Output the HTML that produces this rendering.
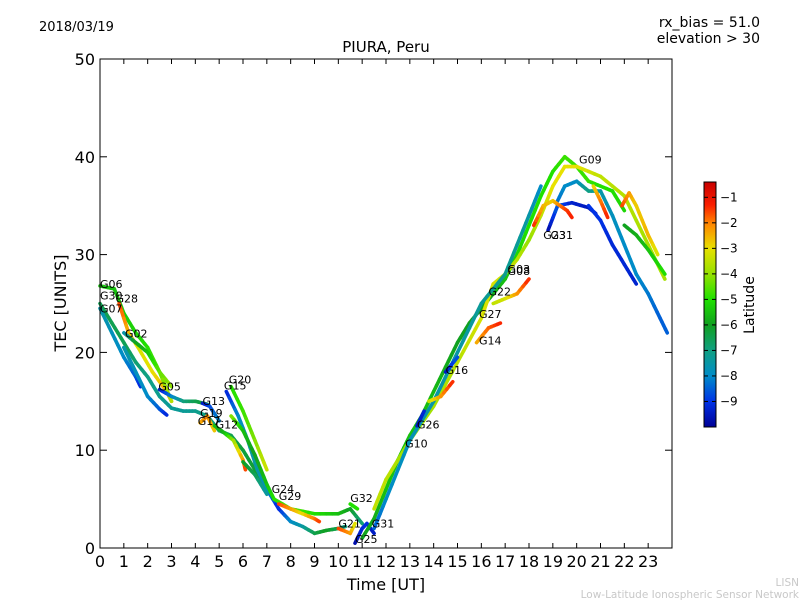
<!DOCTYPE html>
<html><head><meta charset="utf-8"><style>
body{margin:0;background:#fff;}
svg text{font-family:"DejaVu Sans","Liberation Sans",sans-serif;}
</style></head><body>
<svg id="chart" width="800" height="600" xmlns="http://www.w3.org/2000/svg">
<rect width="800" height="600" fill="#fff"/>
<text x="39" y="31" font-size="13">2018/03/19</text>
<text x="760" y="27" font-size="14" text-anchor="end">rx_bias = 51.0</text>
<text x="760" y="43" font-size="14" text-anchor="end">elevation &gt; 30</text>
<text x="386" y="52" font-size="15" text-anchor="middle">PIURA, Peru</text>
<g id="series"></g>
<g id="axes"></g>
<text x="386" y="590" font-size="16" text-anchor="middle">Time [UT]</text>
<text transform="translate(66,303) rotate(-90)" font-size="16" text-anchor="middle">TEC [UNITS]</text>
<g id="cbar"></g>
<text transform="translate(754,305) rotate(-90)" font-size="14" text-anchor="middle">Latitude</text>
<text x="799" y="586" font-size="10.5" fill="#c8c8c8" text-anchor="end">LISN</text>
<text x="799" y="598" font-size="10.5" fill="#c8c8c8" text-anchor="end">Low-Latitude Ionospheric Sensor Network</text>
</svg>
<script>
const xTicks=[0,1,2,3,4,5,6,7,8,9,10,11,12,13,14,15,16,17,18,19,20,21,22,23];
const yTicks=[0,10,20,30,40,50];
const cbarTicks=[-1,-2,-3,-4,-5,-6,-7,-8,-9];
// each track: times, tec values, latitudes
const trackNames=["G07","G30","G06","G28","G02","cyanA","G05","G13","G19","G12","G15","G20","greenB","G24","G29","G21","G25","G32","riseGreen","riseYellow","riseCyan","G23","G09b","G31b","lateOrange","lateGreen","r1","r2","r3","r4","r5","b1","b2"];
const trackTimes=[
[0,0.5,1,1.5,2,2.5,3,3.5,4,4.5,5,5.5,6,6.5,7],
[0,0.5,1,1.5,1.7],
[0,0.6,1,1.5,2,2.5,3],
[0.8,1.2,1.6,2.2,2.8,3.0],
[1,1.5,2,2.5,3],
[1,1.5,2,2.5,2.8],
[2.5,3,3.5,4,4.5],
[4.3,4.6,5],
[4.2,4.5,4.8],
[4.8,5.2,5.6,6,6.1],
[5.3,5.8,6.2,6.6,7,7.5,8,8.5,9,9.5,10,10.3],
[5.5,6,6.5,7],
[5.5,6,6.5,7,7.3,8,9,10,10.5,11],
[6,6.5,7],
[7.5,8,8.5,9,9.2],
[10,10.5,10.7],
[10.7,11,11.2,11.5],
[10.5,10.8],
[11,11.5,12,12.5,13,13.5,14,14.5,15,15.5,16,16.5,17,17.5,18,18.5,19,19.5,20,20.5,21,21.5,22],
[11.5,12,13,14,15,16,16.5,17,17.5,18,18.5,19,19.5,20,21,22,23,23.7],
[11.5,12,13,14,15,16,17,17.5,18,18.5],
[18.8,19.2,19.8,20.5,20.8],
[19.2,19.5,20,20.5,21,21.5,22,22.5,23,23.5,23.8],
[20.5,21,21.5,22,22.5],
[21.9,22.2,22.5,23,23.4],
[22,22.5,23,23.7],
[13.8,14.3,14.8],
[15.8,16.3,16.8],
[16.5,17,17.5,18],
[18.2,18.6,19,19.3,19.6,19.8],
[20.7,21,21.3],
[13.3,13.6],
[14.5,15]];
const trackTec=[
[25,23,21,19,17.5,15.5,14.3,14,14,13.5,12,11.5,10,8,6],
[24.5,22,19.5,17.5,16.5],
[26.8,26.5,24,22,20.5,18,16.5],
[25,22,20.5,18,16,15],
[22,21,20,18,15],
[20.5,18,15.5,14.2,13.6],
[16.2,15.5,15,15,14.7],
[14.8,14.5,13],
[12.8,13.5,12],
[12.5,11.8,11,9,8],
[16,13.5,11,8,6,4,2.7,2.2,1.5,1.8,2,2.2],
[16.5,14,11,8],
[13.5,12,9.5,6.5,5,4,3.5,3.5,4,2.5],
[8.8,7.5,5.5],
[4.5,4,3.5,3,2.7],
[2,1.5,2.5],
[0.5,2,2.5,1.5],
[4.5,4],
[1,3,6,9,11.5,13.5,16,18.5,21,23,24.5,26,27.5,30,33,36,38.5,40,39,37.5,37,36.5,34.5],
[4,7,11,14.5,19,23.5,27,28,29.5,31.5,34,37,39,39,38,36,31,27.5],
[2,5,11,15,20,25,28,31,34,37],
[32.5,35,35.3,34.8,34.2],
[35.5,37,37.5,36.5,36.5,34,31,28,26,23.5,22],
[35,33.5,31,29,27],
[35,36.3,35,32,30],
[33,32,30.5,28],
[15,15.5,17],
[21,22.5,23],
[25,25.5,26,27.5],
[33,35,35.5,35,34.5,33.8],
[37,35.5,33.8],
[12.5,14],
[18,19.5]];
const trackLat=[
[-6.5,-6.5,-6.5,-6.8,-7,-7.2,-7.3,-7.3,-7.2,-7,-6.8,-6.5,-6.3,-6.2,-6],
[-7.5,-7.8,-8,-8.5,-9.2],
[-5.5,-5.5,-5.3,-5.2,-5,-4.5,-4],
[-1.5,-2.5,-3.2,-3,-2.5,-2],
[-7.8,-6,-5.5,-4.5,-3.5],
[-7.5,-7.8,-8,-8.5,-9.2],
[-9.5,-8.2,-7,-6.5,-6.2],
[-9.5,-8.8,-8],
[-2.5,-2,-2.8],
[-5.5,-5.8,-4,-2.3,-1.5],
[-9.3,-8,-7.5,-7.5,-7.8,-9.2,-8,-7.5,-6.5,-6,-6.5,-7],
[-5,-4.8,-4.2,-3.3],
[-4,-5.5,-6,-5.5,-5,-4.5,-5,-5.5,-6,-7],
[-6,-6.5,-7.5],
[-1.5,-2.2,-3,-2,-1.5],
[-1.5,-2.2,-3.2],
[-9.8,-9.2,-9,-9.5],
[-5,-5],
[-6,-5.8,-5.5,-5.5,-5.5,-5.5,-5.6,-5.8,-6,-6,-6,-5.8,-5.5,-5.2,-5,-5,-5,-4.8,-4.8,-4.8,-5,-5,-5.2],
[-3.5,-3.5,-4,-3.8,-3.6,-3.2,-3.2,-3.3,-3.5,-4,-3.5,-3,-3,-3,-3.5,-3.6,-3.8,-3.8],
[-8.5,-8,-7.8,-7.5,-7.5,-7.3,-7.2,-7.3,-7.5,-8],
[-9.8,-8.5,-9.3,-9.5,-9.5],
[-8.3,-8,-8,-7,-7.5,-7.8,-8,-8,-8.2,-8.5,-8.5],
[-9,-9,-9.2,-9.2,-9.3],
[-1.5,-2.2,-2.8,-2.5,-3.2],
[-6,-5.8,-5.5,-5],
[-3.5,-2.3,-1.3],
[-2.5,-1.8,-1.3],
[-3.5,-3.3,-2.3,-1.3],
[-1.3,-2.5,-2.8,-2,-1.5,-1.3],
[-3,-2,-1.3],
[-9.5,-9.2],
[-9.6,-8.5]];
const labelNames=["G06","G30","G28","G07","G02","G05","G20","G15","G13","G19","G17","G12","G24","G29","G32","G21","G31","G25","G10","G26","G16","G14","G27","G22","G08","G03","G23","G31","G09"];
const labelT=[0,0,0.65,0,1.05,2.45,5.4,5.2,4.3,4.2,4.1,4.85,7.2,7.5,10.5,10,11.4,10.7,12.8,13.3,14.5,15.9,15.9,16.3,17.1,17.1,18.6,18.9,20.1];
const labelV=[26.6,25.4,25.1,24.1,21.5,16.1,16.8,16.2,14.6,13.4,12.6,12.2,5.6,4.9,4.7,2.1,2.1,0.5,10.3,12.2,17.8,20.8,23.5,25.8,27.9,28.1,31.6,31.6,39.3];

const X0=100,X1=672,Y0=548,Y1=59;
const sx=t=>X0+(t/24)*(X1-X0);
const sy=v=>Y0-(v/50)*(Y0-Y1);
const LMIN=-10,LMAX=-0.4;
const stops=[[-10,[0,0,150]],[-9,[0,50,230]],[-8,[0,140,200]],[-7,[16,160,130]],[-6,[16,160,32]],[-5,[32,225,0]],[-4,[150,225,0]],[-3,[232,225,0]],[-2,[255,130,0]],[-1.3,[250,30,0]],[-0.4,[200,0,0]]];
function col(l){l=Math.max(LMIN,Math.min(LMAX,l));
 for(let i=0;i<stops.length-1;i++){const a=stops[i],b=stops[i+1];
  if(l<=b[0]){const f=(l-a[0])/(b[0]-a[0]);const c=a[1].map((x,k)=>Math.round(x+(b[1][k]-x)*f));return `rgb(${c[0]},${c[1]},${c[2]})`;}}
 return 'rgb(200,0,0)';}
const NS='http://www.w3.org/2000/svg';
function mk(tag,attrs,parent){const e=document.createElementNS(NS,tag);for(const k in attrs)e.setAttribute(k,attrs[k]);parent.appendChild(e);return e;}
const ser=document.getElementById('series');
trackNames.forEach((nm,i)=>{
 const g=mk('g',{},ser);
 
 
 const T=trackTimes[i],V=trackTec[i],L=trackLat[i];
 for(let j=0;j<T.length-1;j++){
  const segs=4;
  for(let s=0;s<segs;s++){
   const f0=s/segs,f1=(s+1)/segs;
   const t0=T[j]+(T[j+1]-T[j])*f0,t1=T[j]+(T[j+1]-T[j])*f1;
   const v0=V[j]+(V[j+1]-V[j])*f0,v1=V[j]+(V[j+1]-V[j])*f1;
   const l=L[j]+(L[j+1]-L[j])*(f0+f1)/2;
   const ln=mk('line',{x1:sx(t0),y1:sy(v0),x2:sx(t1),y2:sy(v1),stroke:col(l),'stroke-width':3.6,'stroke-linecap':'round'},g);
   
   
  }
 }
});
labelNames.forEach((nm,i)=>{
 const t=mk('text',{x:sx(labelT[i]),y:sy(labelV[i]),'font-size':11},ser);
 t.textContent=nm;
 
 
});
const ax=document.getElementById('axes');
const fr=mk('rect',{x:X0,y:Y1,width:X1-X0,height:Y0-Y1,fill:'none',stroke:'#000','stroke-width':1},ax);


xTicks.forEach(t=>{
 const x=sx(t);
 mk('line',{x1:x,y1:Y0,x2:x,y2:Y0-5,stroke:'#000'},ax);
 mk('line',{x1:x,y1:Y1,x2:x,y2:Y1+5,stroke:'#000'},ax);
 const tx=mk('text',{x:x,y:Y0+19,'font-size':16,'text-anchor':'middle'},ax);
 tx.textContent=t;
 
 
});
yTicks.forEach(v=>{
 const y=sy(v);
 mk('line',{x1:X0,y1:y,x2:X0+7,y2:y,stroke:'#000'},ax);
 mk('line',{x1:X1,y1:y,x2:X1-7,y2:y,stroke:'#000'},ax);
 const tx=mk('text',{x:X0-5,y:y+6,'font-size':16,'text-anchor':'end'},ax);
 tx.textContent=v;
 
 
});
const cb=document.getElementById('cbar');
const CX=704,CW=12,CT=182,CB=427;
const cy=l=>CB-(l-LMIN)/(LMAX-LMIN)*(CB-CT);
for(let p=CT;p<CB;p++){const l=LMIN+(CB-p-0.5)/(CB-CT)*(LMAX-LMIN);mk('rect',{x:CX,y:p,width:CW,height:1.2,fill:col(l)},cb);}
const cbf=mk('rect',{x:CX,y:CT,width:CW,height:CB-CT,fill:'none',stroke:'#000','stroke-width':1},cb);


cbarTicks.forEach(l=>{
 const y=cy(l);
 mk('line',{x1:CX,y1:y,x2:CX+4,y2:y,stroke:'#000'},cb);
 mk('line',{x1:CX+CW,y1:y,x2:CX+CW-4,y2:y,stroke:'#000'},cb);
 const tx=mk('text',{x:CX+CW+4,y:y+4,'font-size':12},cb);
 tx.textContent='\u2212'+Math.abs(l);
 
 
});
</script>
</body></html>
